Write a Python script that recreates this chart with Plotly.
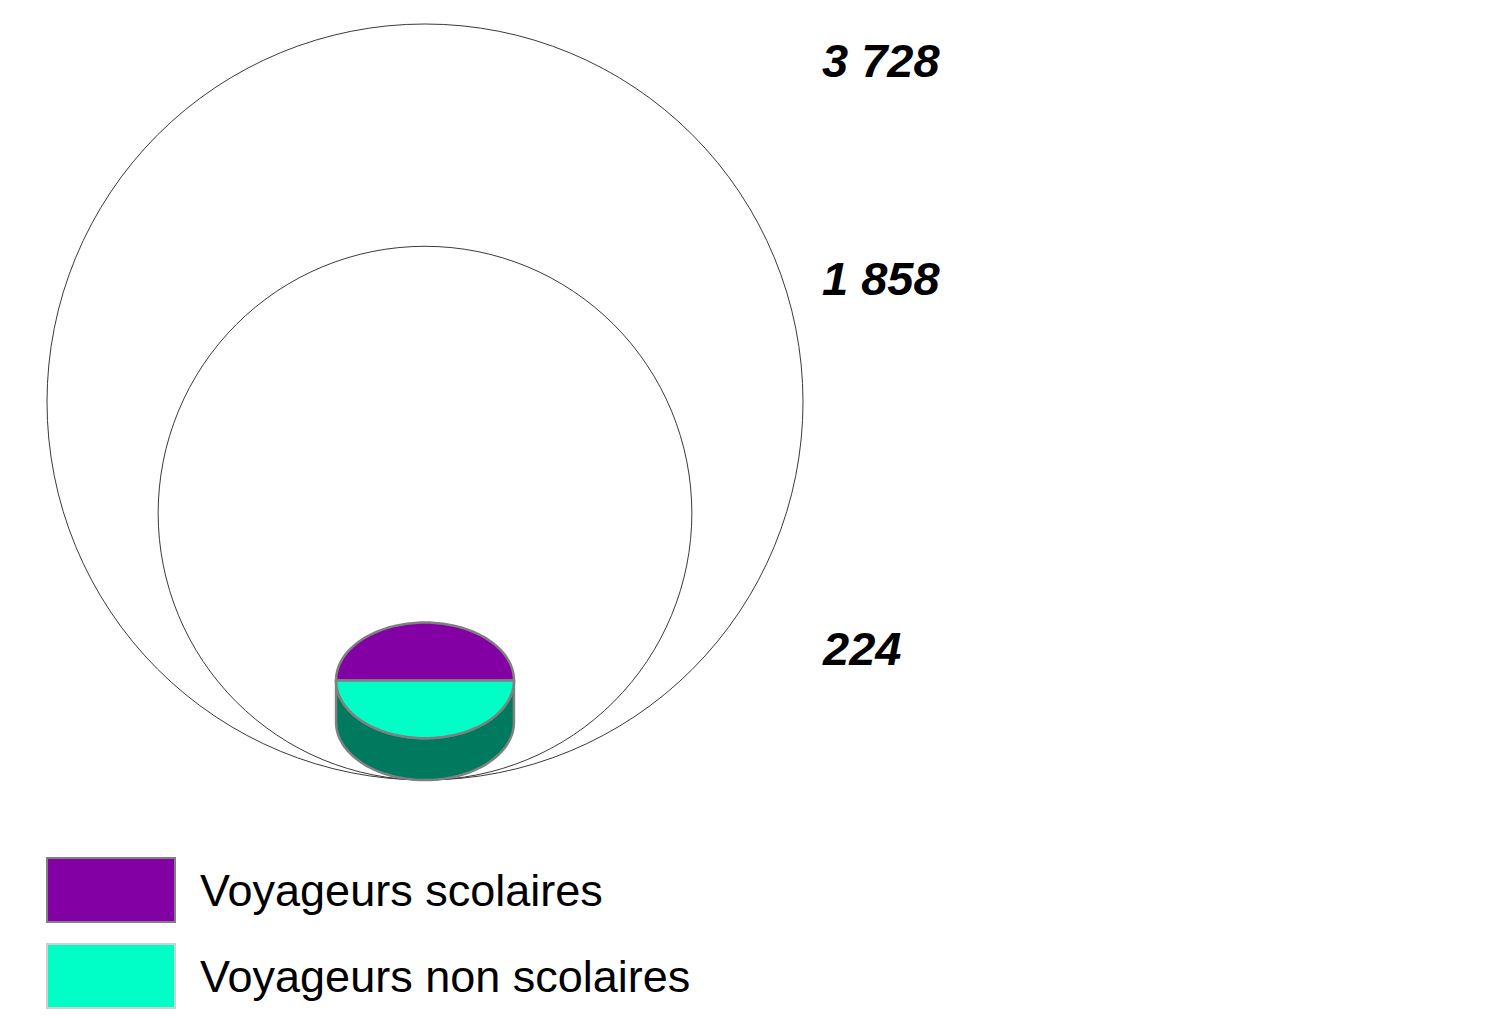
import numpy as np
import plotly.graph_objects as go

# ---- data ----
ref_values = [3728, 1858, 224]
ref_labels = ["3 728", "1 858", "224"]
pie_value = 224
categories = ["Voyageurs scolaires", "Voyageurs non scolaires"]
shares = [50, 50]

# ---- styles / layout ----
colors = ["#8200A4", "#00FFC6"]
side_color = "#007A5E"
outline = "#808080"
OFF = 8  # page body margin
W, H = 1500 - 2 * OFF, 1018 - 2 * OFF
cx, base = 425, 780
k = 378 / np.sqrt(max(ref_values))
label_x = 820
label_y = [60, 278, 648]

fig = go.Figure()
shapes = []
annotations = []

# reference circles
for v in ref_values[:2]:
    r = k * np.sqrt(v)
    shapes.append(dict(type="circle", xref="x", yref="y",
                       x0=cx - r, x1=cx + r, y0=base - 2 * r, y1=base,
                       line=dict(color="#3a3a3a", width=1), fillcolor="rgba(0,0,0,0)"))

# 3D pie for small value
rx = k * np.sqrt(pie_value) * 0.96
ry = rx * 0.65
depth = rx * 0.47
cy_top = base - ry - depth
cy_bot = base - ry

def pts_to_path(pts, close=True):
    s = "M " + " L ".join(f"{x:.2f},{y:.2f}" for x, y in pts)
    return s + (" Z" if close else "")

t = np.linspace(np.pi, 0, 80)  # left -> right along lower half
top_lower = [(cx + rx * np.cos(a), cy_top + ry * np.sin(a)) for a in t]
bot_lower = [(cx + rx * np.cos(a), cy_bot + ry * np.sin(a)) for a in t[::-1]]
side = top_lower + bot_lower
shapes.append(dict(type="path", xref="x", yref="y", path=pts_to_path(side),
                   fillcolor=side_color, line=dict(color=outline, width=2.5)))

total = sum(shares)
start = 0.0
for s, c in zip(shares, colors):
    ang = 2 * np.pi * s / total
    th = np.linspace(start, start + ang, 100)
    pts = [(cx, cy_top)] + [(cx + rx * np.cos(a), cy_top - ry * np.sin(a)) for a in th]
    shapes.append(dict(type="path", xref="x", yref="y", path=pts_to_path(pts),
                       fillcolor=c, line=dict(color=outline, width=2.5)))
    start += ang

# value labels
for lab, ly in zip(ref_labels, label_y):
    annotations.append(dict(x=label_x, y=ly, xref="x", yref="y", text=lab,
                            showarrow=False, xanchor="left", yanchor="middle",
                            font=dict(family="Liberation Sans, Arial", size=47,
                                      color="black", weight="bold", style="italic")))

# legend
leg_y = [890, 976]
leg_line = ["#808080", "#d0d0d0"]
for cat, c, ly, lc in zip(categories, colors, leg_y, leg_line):
    shapes.append(dict(type="rect", xref="x", yref="y", x0=47, x1=175,
                       y0=ly - 32, y1=ly + 32, fillcolor=c, line=dict(color=lc, width=2)))
    annotations.append(dict(x=198, y=ly, xref="x", yref="y", text=cat, showarrow=False,
                            xanchor="left", yanchor="middle",
                            font=dict(family="Liberation Sans, Arial", size=45, color="black")))

fig.update_layout(width=W, height=H, margin=dict(l=0, r=0, t=0, b=0),
                  paper_bgcolor="white", plot_bgcolor="white",
                  shapes=shapes, annotations=annotations, showlegend=False,
                  xaxis=dict(range=[OFF, OFF + W], visible=False, fixedrange=True),
                  yaxis=dict(range=[OFF + H, OFF], visible=False, fixedrange=True))
fig.write_html("out.html", config={"displayModeBar": False})
